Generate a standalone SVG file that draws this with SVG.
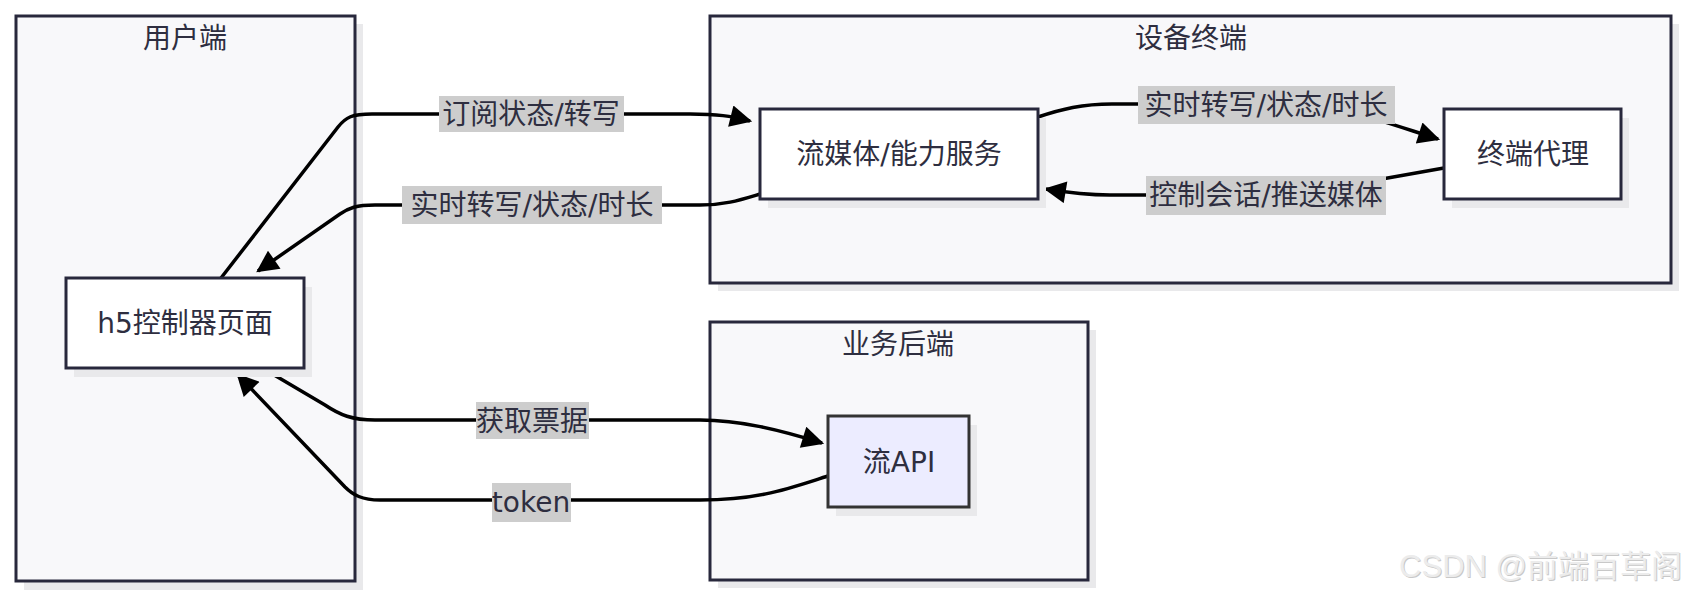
<svg xmlns="http://www.w3.org/2000/svg" width="1687" height="596" viewBox="0 0 1687 596">
<defs>
<style>
.cl{fill:#f8f8fa;stroke:#28283c;stroke-width:3}
.sh{fill:#e9e9eb}
.nd{fill:#ffffff;stroke:#28283c;stroke-width:3}
.t{font-family:"DejaVu Sans","Noto Sans CJK SC",sans-serif;font-size:28px;fill:#2e2e40;text-anchor:middle;dominant-baseline:central}
.e{fill:none;stroke:#000;stroke-width:3.5}
.lb{fill:#cdcdcd}
</style>
<marker id="ah" viewBox="0 0 10 10" refX="9" refY="5" markerUnits="userSpaceOnUse" markerWidth="24" markerHeight="22" orient="auto">
<path d="M0,0 L10,5 L0,10 z" fill="#000"/>
</marker>
</defs>
<rect width="1687" height="596" fill="#ffffff"/>

<g id="cluster-user">
<rect class="sh" x="24" y="24" width="339" height="566"/>
<rect class="cl" x="16" y="16" width="339" height="565"/>
<text class="t" x="185" y="38">用户端</text>
</g>
<g id="cluster-device">
<rect class="sh" x="718" y="24" width="961" height="267"/>
<rect class="cl" x="710" y="16" width="961" height="267"/>
<text class="t" x="1191" y="38">设备终端</text>
</g>
<g id="cluster-backend">
<rect class="sh" x="718" y="330" width="378" height="258"/>
<rect class="cl" x="710" y="322" width="378" height="258"/>
<text class="t" x="898" y="344">业务后端</text>
</g>

<g id="edges">
<path class="e" d="M221,278 L338,127 C346,117 352,114 372,114 L690,114 C718,114 730,116 750,121" marker-end="url(#ah)"/>
<path class="e" d="M760,194 C740,200 725,205 700,205 L375,205 C356,205 349,208 340,214 L258,271" marker-end="url(#ah)"/>
<path class="e" d="M1038,117 C1062,109 1082,104 1112,104 L1300,104 C1340,106 1372,118 1438,139" marker-end="url(#ah)"/>
<path class="e" d="M1444,168 L1382,179 C1352,185 1330,195 1290,195 L1110,195 C1086,195 1070,193 1046,189" marker-end="url(#ah)"/>
<path class="e" d="M264,369 L325,405 C340,415 352,420 375,420 L700,420 C740,420 780,430 822,443" marker-end="url(#ah)"/>
<path class="e" d="M828,476 C790,488 760,500 700,500 L380,500 C362,500 353,495 345,487 L238,375" marker-end="url(#ah)"/>
<rect class="lb" x="439" y="96" width="185" height="36"/>
<text class="t" x="531" y="114">订阅状态/转写</text>
<rect class="lb" x="402" y="186" width="260" height="38"/>
<text class="t" x="532" y="205">实时转写/状态/时长</text>
<rect class="lb" x="1138" y="86" width="257" height="38"/>
<text class="t" x="1266" y="105">实时转写/状态/时长</text>
<rect class="lb" x="1146" y="176" width="240" height="39"/>
<text class="t" x="1266" y="195">控制会话/推送媒体</text>
<rect class="lb" x="476" y="402" width="113" height="37"/>
<text class="t" x="532" y="421">获取票据</text>
<rect class="lb" x="492" y="483" width="79" height="39"/>
<text class="t" x="531" y="502">token</text>
</g>

<g id="node-h5">
<rect class="sh" x="74" y="287" width="238" height="90"/>
<rect class="nd" x="66" y="278" width="238" height="90"/>
<text class="t" x="185" y="323">h5控制器页面</text>
</g>
<g id="node-media">
<rect class="sh" x="768" y="118" width="278" height="90"/>
<rect class="nd" x="760" y="109" width="278" height="90"/>
<text class="t" x="899" y="154">流媒体/能力服务</text>
</g>
<g id="node-agent">
<rect class="sh" x="1452" y="118" width="177" height="90"/>
<rect class="nd" x="1444" y="109" width="177" height="90"/>
<text class="t" x="1533" y="154">终端代理</text>
</g>
<g id="node-api">
<rect class="sh" x="836" y="425" width="141" height="91"/>
<rect x="828" y="416" width="141" height="91" fill="#ececff" stroke="#333" stroke-width="3"/>
<text class="t" x="899" y="462">流API</text>
</g>

<g id="watermark">
<text x="1683" y="578" font-family="'Liberation Sans','Noto Sans CJK SC',sans-serif" font-size="31" fill="#c8c8c8" text-anchor="end">CSDN @前端百草阁</text>
<text x="1682" y="577" font-family="'Liberation Sans','Noto Sans CJK SC',sans-serif" font-size="31" fill="#ececec" text-anchor="end">CSDN @前端百草阁</text>
</g>
</svg>
